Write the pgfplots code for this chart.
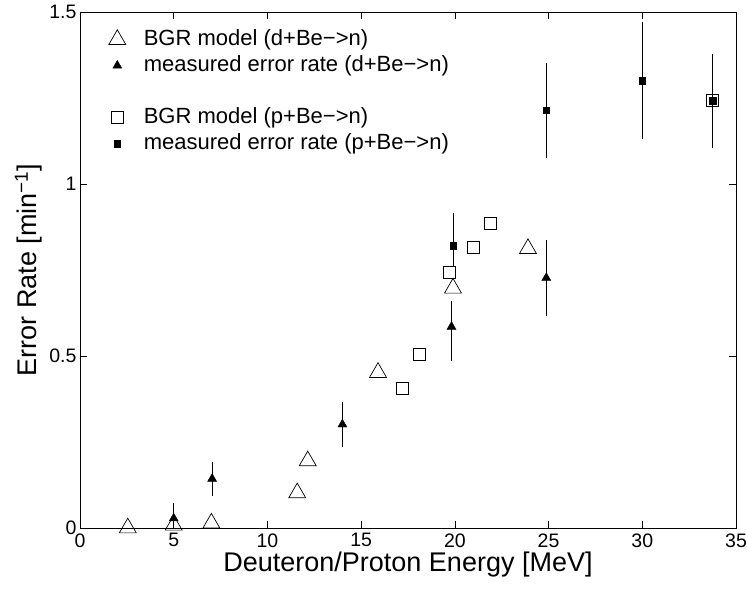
\documentclass[border=0pt]{standalone}
\usepackage{fontspec}
\setmainfont{Liberation Sans}
\usepackage{pgfplots}
\pgfplotsset{compat=1.18}
\begin{document}
\begin{tikzpicture}
\begin{axis}[
  name=ax,
  scale only axis, width=656pt, height=516pt,
  xmin=0, xmax=35, ymin=0, ymax=1.5,
  xtick={0,5,10,15,20,25,30,35},
  ytick={0,0.5,1,1.5},
  tick align=inside, major tick length=7pt,
  every tick/.style={black, line width=0.6pt},
  axis line style={line width=0.8pt},
  /pgf/number format/assume math mode=true,
  tick label style={font=\fontsize{19.5}{23}\selectfont},
  xticklabel style={yshift=-2pt},
  label style={font=\fontsize{27}{32}\selectfont},
  xlabel={Deuteron/Proton Energy [MeV]},
  ylabel={Error Rate [min\textsuperscript{−1}]},
  xlabel style={yshift=2pt},
  legend cell align=left,
  legend style={draw=none, fill=none, at={(0.039,0.973)}, anchor=north west,
    font=\fontsize{22}{25}\selectfont,
    nodes={inner sep=1pt, text height=16pt, text depth=5pt},
    /tikz/every odd column/.append style={column sep=17pt},
    row sep=3pt},
  clip=true,
]
% BGR model d+Be
\addplot[only marks, mark=triangle, mark size=9.8pt, mark options={draw=black, fill=none, line width=0.7pt}]
  table[x=x, y=y]{
x y
2.55 0.000
5.0 0.008
7.01 0.014
11.59 0.102
12.15 0.195
15.9 0.452
19.9 0.697
23.9 0.812
};
\addlegendentry{BGR model (d+Be−>n)}
% measured d+Be
\addplot[only marks, mark=triangle*, mark size=5.2pt, mark options={draw=black, fill=black, line width=0.4pt},
  error bars/.cd, y dir=both, y explicit, error mark=none,
  error bar style={line width=0.8pt, black}]
  table[x=x, y=y, y error plus=ep, y error minus=em]{
x y ep em
5.0 0.028 0.045 0.04
7.05 0.143 0.05 0.05
14.0 0.301 0.066 0.066
19.82 0.585 0.075 0.10
24.88 0.727 0.11 0.11
};
\addlegendentry{measured error rate (d+Be−>n)}
\addlegendimage{empty legend}
\addlegendentry{}
% BGR model p+Be
\addplot[only marks, mark=square, mark size=6pt, mark options={draw=black, fill=none, line width=0.7pt}]
  table[x=x, y=y]{
x y
17.2 0.405
18.08 0.504
19.73 0.744
20.96 0.816
21.9 0.887
33.76 1.242
};
\addlegendentry{BGR model (p+Be−>n)}
% measured p+Be
\addplot[only marks, mark=square*, mark size=3.3pt, mark options={draw=black, fill=black, line width=0.4pt},
  error bars/.cd, y dir=both, y explicit, error mark=none,
  error bar style={line width=0.8pt, black}]
  table[x=x, y=y, y error plus=ep, y error minus=em]{
x y ep em
19.91 0.821 0.095 0.06
24.88 1.214 0.137 0.137
30.0 1.301 0.17 0.17
33.76 1.242 0.137 0.137
};
\addlegendentry{measured error rate (p+Be−>n)}
\end{axis}
\pgfresetboundingbox
\path ([xshift=-80pt, yshift=-62pt]ax.south west) rectangle ([xshift=11pt, yshift=12pt]ax.north east);
\end{tikzpicture}
\end{document}
